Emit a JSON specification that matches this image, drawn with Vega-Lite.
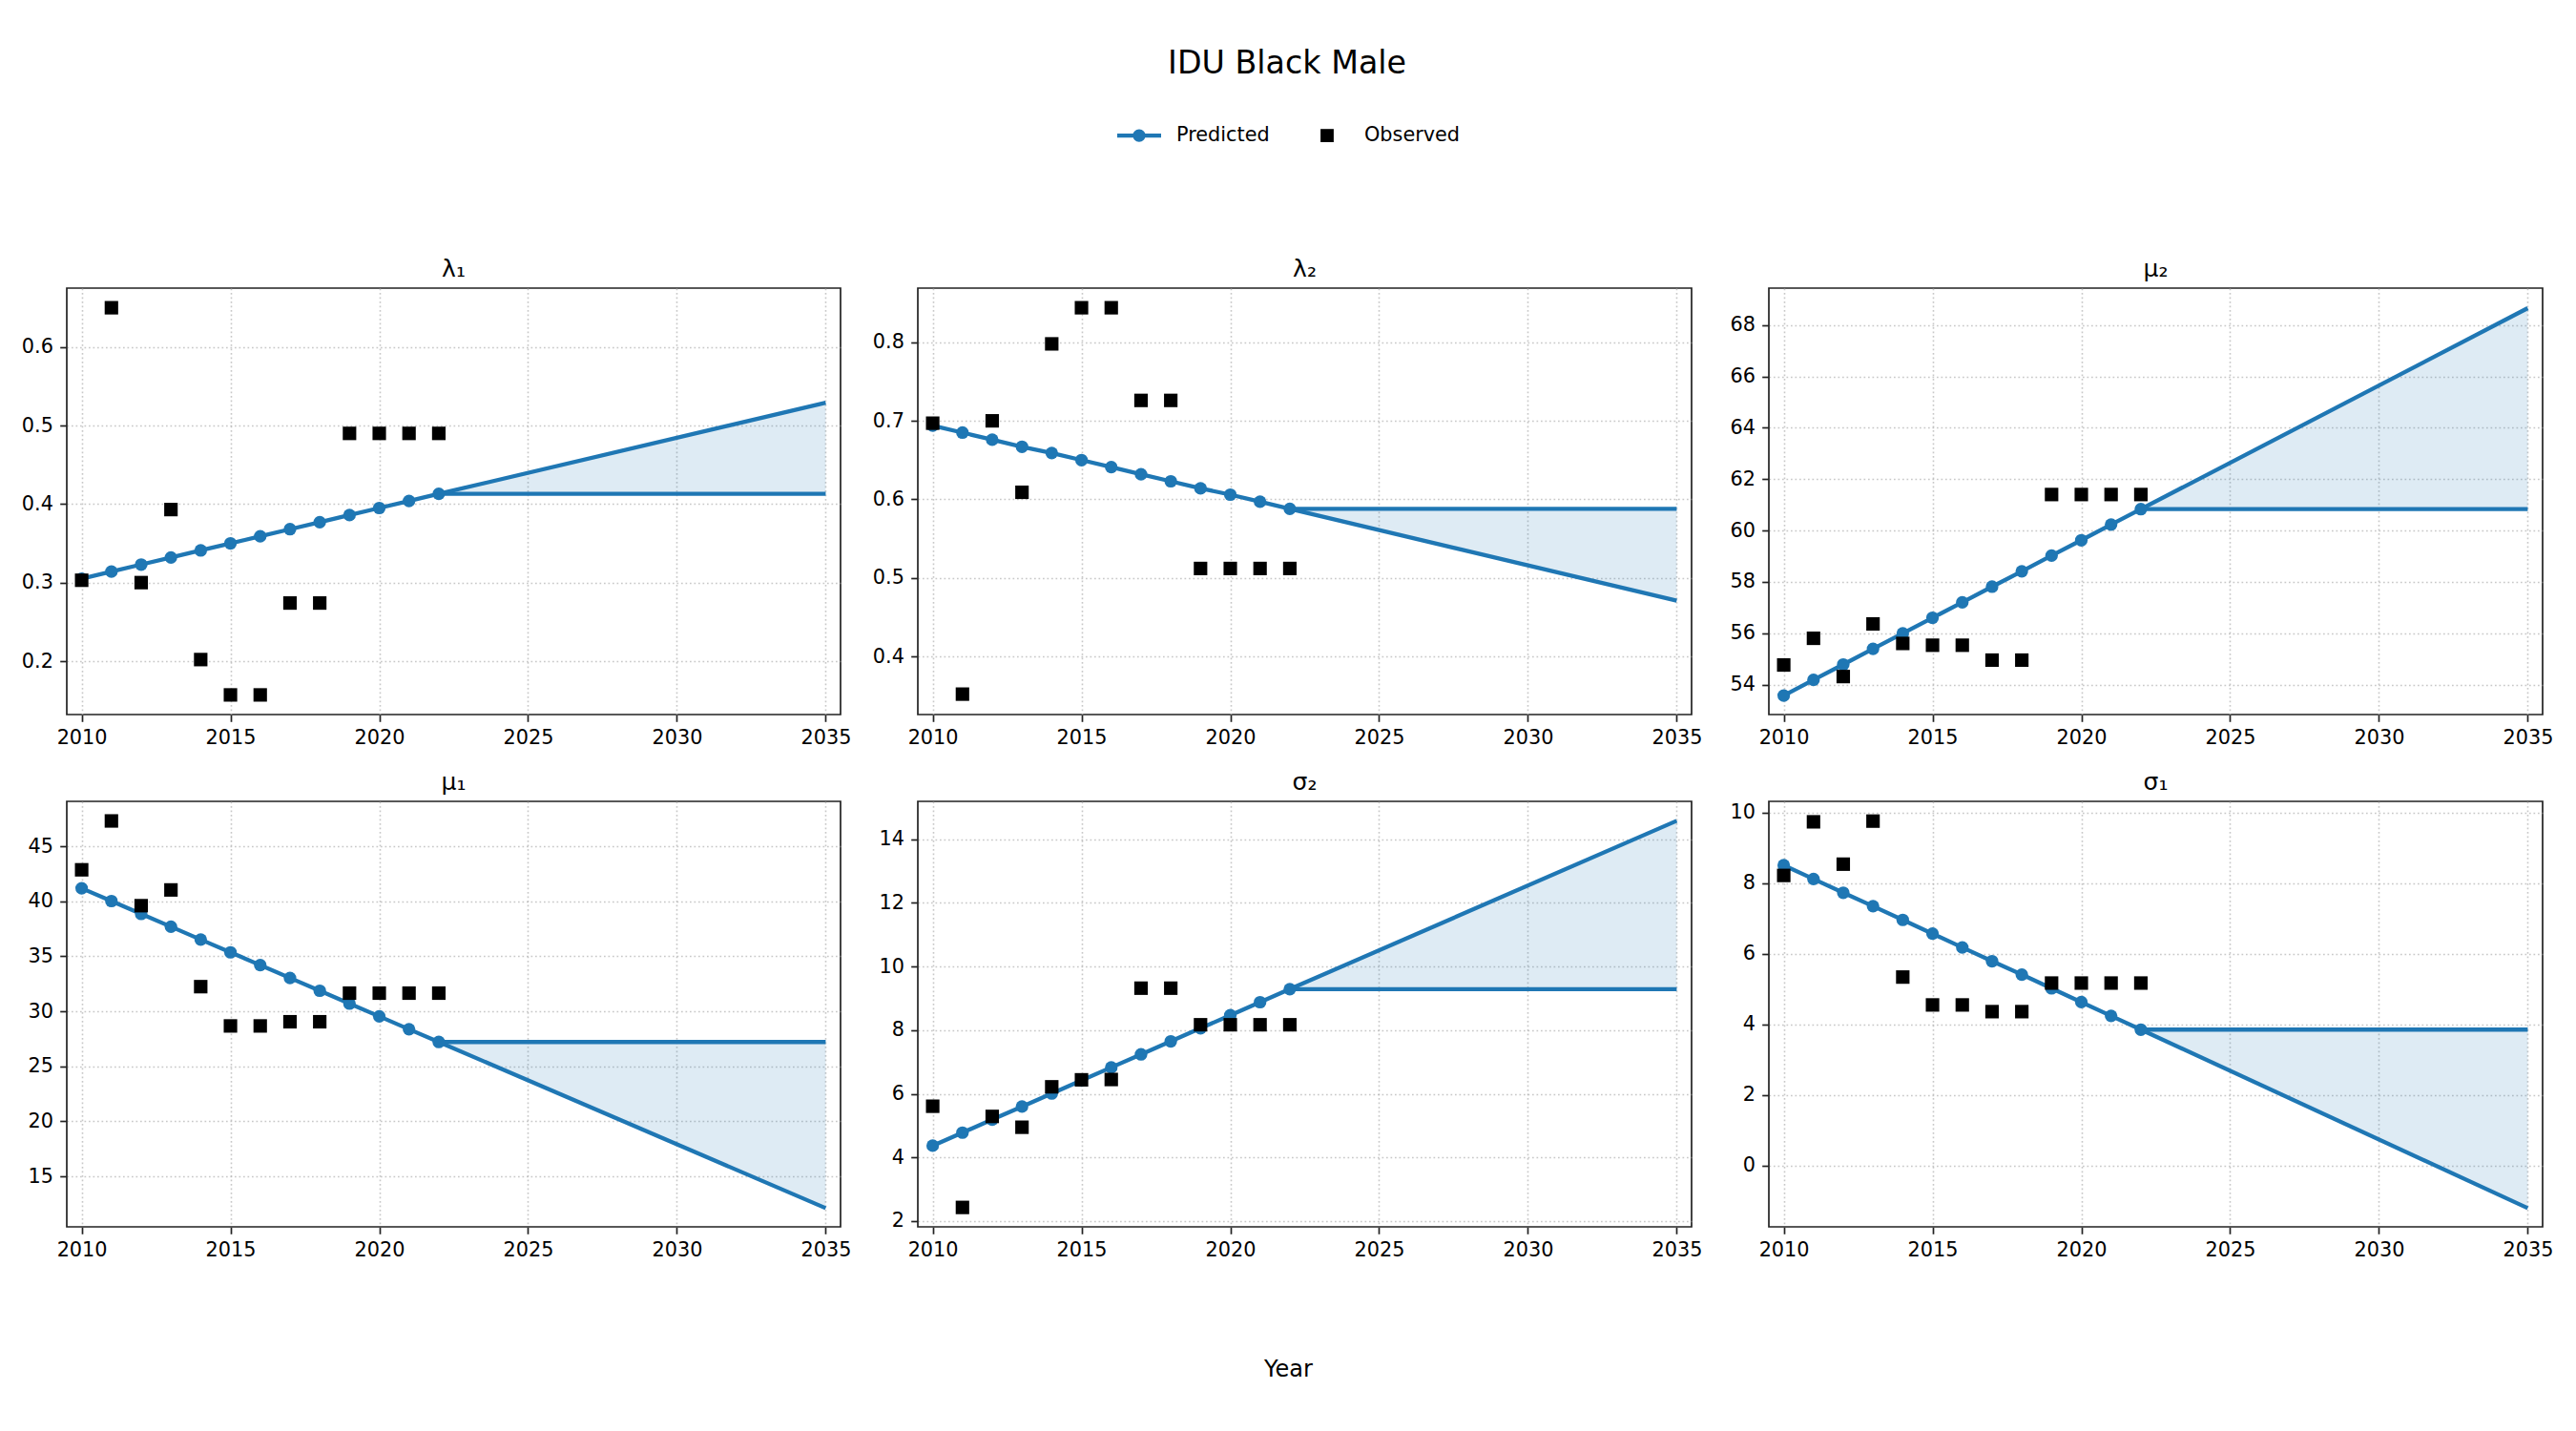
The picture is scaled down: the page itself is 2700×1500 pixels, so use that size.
{
  "$schema": "https://vega.github.io/schema/vega-lite/v6.json",
  "autosize": {"type": "none"},
  "padding": {"left": 70, "top": 302, "right": 2630, "bottom": 1198},
  "background": "white",
  "title": {"text": "IDU Black Male", "fontSize": 33.3, "anchor": "middle", "frame": "bounds", "baseline": "alphabetic", "offset": 8},
  "datasets": {
    "pred": [
      {"param": "λ₁", "year": 2010, "value": 0.305}, {"param": "λ₁", "year": 2011, "value": 0.314}, {"param": "λ₁", "year": 2012, "value": 0.323}, {"param": "λ₁", "year": 2013, "value": 0.332}, {"param": "λ₁", "year": 2014, "value": 0.341}, {"param": "λ₁", "year": 2015, "value": 0.350}, {"param": "λ₁", "year": 2016, "value": 0.359}, {"param": "λ₁", "year": 2017, "value": 0.368}, {"param": "λ₁", "year": 2018, "value": 0.377}, {"param": "λ₁", "year": 2019, "value": 0.386}, {"param": "λ₁", "year": 2020, "value": 0.395}, {"param": "λ₁", "year": 2021, "value": 0.404}, {"param": "λ₁", "year": 2022, "value": 0.413},
      {"param": "λ₂", "year": 2010, "value": 0.694}, {"param": "λ₂", "year": 2011, "value": 0.685}, {"param": "λ₂", "year": 2012, "value": 0.676}, {"param": "λ₂", "year": 2013, "value": 0.667}, {"param": "λ₂", "year": 2014, "value": 0.659}, {"param": "λ₂", "year": 2015, "value": 0.650}, {"param": "λ₂", "year": 2016, "value": 0.641}, {"param": "λ₂", "year": 2017, "value": 0.632}, {"param": "λ₂", "year": 2018, "value": 0.623}, {"param": "λ₂", "year": 2019, "value": 0.614}, {"param": "λ₂", "year": 2020, "value": 0.606}, {"param": "λ₂", "year": 2021, "value": 0.597}, {"param": "λ₂", "year": 2022, "value": 0.588},
      {"param": "μ₂", "year": 2010, "value": 53.57}, {"param": "μ₂", "year": 2011, "value": 54.18}, {"param": "μ₂", "year": 2012, "value": 54.78}, {"param": "μ₂", "year": 2013, "value": 55.39}, {"param": "μ₂", "year": 2014, "value": 55.99}, {"param": "μ₂", "year": 2015, "value": 56.60}, {"param": "μ₂", "year": 2016, "value": 57.20}, {"param": "μ₂", "year": 2017, "value": 57.81}, {"param": "μ₂", "year": 2018, "value": 58.41}, {"param": "μ₂", "year": 2019, "value": 59.02}, {"param": "μ₂", "year": 2020, "value": 59.62}, {"param": "μ₂", "year": 2021, "value": 60.23}, {"param": "μ₂", "year": 2022, "value": 60.83},
      {"param": "μ₁", "year": 2010, "value": 41.18}, {"param": "μ₁", "year": 2011, "value": 40.02}, {"param": "μ₁", "year": 2012, "value": 38.85}, {"param": "μ₁", "year": 2013, "value": 37.69}, {"param": "μ₁", "year": 2014, "value": 36.52}, {"param": "μ₁", "year": 2015, "value": 35.36}, {"param": "μ₁", "year": 2016, "value": 34.20}, {"param": "μ₁", "year": 2017, "value": 33.03}, {"param": "μ₁", "year": 2018, "value": 31.87}, {"param": "μ₁", "year": 2019, "value": 30.70}, {"param": "μ₁", "year": 2020, "value": 29.54}, {"param": "μ₁", "year": 2021, "value": 28.37}, {"param": "μ₁", "year": 2022, "value": 27.21},
      {"param": "σ₂", "year": 2010, "value": 4.37}, {"param": "σ₂", "year": 2011, "value": 4.78}, {"param": "σ₂", "year": 2012, "value": 5.19}, {"param": "σ₂", "year": 2013, "value": 5.60}, {"param": "σ₂", "year": 2014, "value": 6.01}, {"param": "σ₂", "year": 2015, "value": 6.42}, {"param": "σ₂", "year": 2016, "value": 6.83}, {"param": "σ₂", "year": 2017, "value": 7.24}, {"param": "σ₂", "year": 2018, "value": 7.65}, {"param": "σ₂", "year": 2019, "value": 8.06}, {"param": "σ₂", "year": 2020, "value": 8.47}, {"param": "σ₂", "year": 2021, "value": 8.88}, {"param": "σ₂", "year": 2022, "value": 9.29},
      {"param": "σ₁", "year": 2010, "value": 8.51}, {"param": "σ₁", "year": 2011, "value": 8.12}, {"param": "σ₁", "year": 2012, "value": 7.73}, {"param": "σ₁", "year": 2013, "value": 7.35}, {"param": "σ₁", "year": 2014, "value": 6.96}, {"param": "σ₁", "year": 2015, "value": 6.57}, {"param": "σ₁", "year": 2016, "value": 6.18}, {"param": "σ₁", "year": 2017, "value": 5.79}, {"param": "σ₁", "year": 2018, "value": 5.41}, {"param": "σ₁", "year": 2019, "value": 5.02}, {"param": "σ₁", "year": 2020, "value": 4.63}, {"param": "σ₁", "year": 2021, "value": 4.24}, {"param": "σ₁", "year": 2022, "value": 3.85}
    ],
    "obs": [
      {"param": "λ₁", "year": 2010, "value": 0.303}, {"param": "λ₁", "year": 2011, "value": 0.650}, {"param": "λ₁", "year": 2012, "value": 0.300}, {"param": "λ₁", "year": 2013, "value": 0.393}, {"param": "λ₁", "year": 2014, "value": 0.202}, {"param": "λ₁", "year": 2015, "value": 0.157}, {"param": "λ₁", "year": 2016, "value": 0.157}, {"param": "λ₁", "year": 2017, "value": 0.274}, {"param": "λ₁", "year": 2018, "value": 0.274}, {"param": "λ₁", "year": 2019, "value": 0.490}, {"param": "λ₁", "year": 2020, "value": 0.490}, {"param": "λ₁", "year": 2021, "value": 0.490}, {"param": "λ₁", "year": 2022, "value": 0.490},
      {"param": "λ₂", "year": 2010, "value": 0.697}, {"param": "λ₂", "year": 2011, "value": 0.352}, {"param": "λ₂", "year": 2012, "value": 0.700}, {"param": "λ₂", "year": 2013, "value": 0.609}, {"param": "λ₂", "year": 2014, "value": 0.798}, {"param": "λ₂", "year": 2015, "value": 0.844}, {"param": "λ₂", "year": 2016, "value": 0.844}, {"param": "λ₂", "year": 2017, "value": 0.726}, {"param": "λ₂", "year": 2018, "value": 0.726}, {"param": "λ₂", "year": 2019, "value": 0.512}, {"param": "λ₂", "year": 2020, "value": 0.512}, {"param": "λ₂", "year": 2021, "value": 0.512}, {"param": "λ₂", "year": 2022, "value": 0.512},
      {"param": "μ₂", "year": 2010, "value": 54.76}, {"param": "μ₂", "year": 2011, "value": 55.80}, {"param": "μ₂", "year": 2012, "value": 54.31}, {"param": "μ₂", "year": 2013, "value": 56.36}, {"param": "μ₂", "year": 2014, "value": 55.60}, {"param": "μ₂", "year": 2015, "value": 55.53}, {"param": "μ₂", "year": 2016, "value": 55.53}, {"param": "μ₂", "year": 2017, "value": 54.95}, {"param": "μ₂", "year": 2018, "value": 54.95}, {"param": "μ₂", "year": 2019, "value": 61.40}, {"param": "μ₂", "year": 2020, "value": 61.40}, {"param": "μ₂", "year": 2021, "value": 61.40}, {"param": "μ₂", "year": 2022, "value": 61.40},
      {"param": "μ₁", "year": 2010, "value": 42.86}, {"param": "μ₁", "year": 2011, "value": 47.30}, {"param": "μ₁", "year": 2012, "value": 39.60}, {"param": "μ₁", "year": 2013, "value": 41.03}, {"param": "μ₁", "year": 2014, "value": 32.24}, {"param": "μ₁", "year": 2015, "value": 28.67}, {"param": "μ₁", "year": 2016, "value": 28.67}, {"param": "μ₁", "year": 2017, "value": 29.05}, {"param": "μ₁", "year": 2018, "value": 29.05}, {"param": "μ₁", "year": 2019, "value": 31.65}, {"param": "μ₁", "year": 2020, "value": 31.65}, {"param": "μ₁", "year": 2021, "value": 31.65}, {"param": "μ₁", "year": 2022, "value": 31.65},
      {"param": "σ₂", "year": 2010, "value": 5.61}, {"param": "σ₂", "year": 2011, "value": 2.43}, {"param": "σ₂", "year": 2012, "value": 5.29}, {"param": "σ₂", "year": 2013, "value": 4.95}, {"param": "σ₂", "year": 2014, "value": 6.22}, {"param": "σ₂", "year": 2015, "value": 6.44}, {"param": "σ₂", "year": 2016, "value": 6.45}, {"param": "σ₂", "year": 2017, "value": 9.32}, {"param": "σ₂", "year": 2018, "value": 9.32}, {"param": "σ₂", "year": 2019, "value": 8.17}, {"param": "σ₂", "year": 2020, "value": 8.17}, {"param": "σ₂", "year": 2021, "value": 8.17}, {"param": "σ₂", "year": 2022, "value": 8.17},
      {"param": "σ₁", "year": 2010, "value": 8.22}, {"param": "σ₁", "year": 2011, "value": 9.74}, {"param": "σ₁", "year": 2012, "value": 8.54}, {"param": "σ₁", "year": 2013, "value": 9.76}, {"param": "σ₁", "year": 2014, "value": 5.34}, {"param": "σ₁", "year": 2015, "value": 4.55}, {"param": "σ₁", "year": 2016, "value": 4.55}, {"param": "σ₁", "year": 2017, "value": 4.36}, {"param": "σ₁", "year": 2018, "value": 4.36}, {"param": "σ₁", "year": 2019, "value": 5.17}, {"param": "σ₁", "year": 2020, "value": 5.17}, {"param": "σ₁", "year": 2021, "value": 5.17}, {"param": "σ₁", "year": 2022, "value": 5.17}
    ],
    "proj": [
      {"param": "λ₁", "year": 2022, "flat": 0.413, "trend": 0.413}, {"param": "λ₁", "year": 2035, "flat": 0.413, "trend": 0.529},
      {"param": "λ₂", "year": 2022, "flat": 0.588, "trend": 0.588}, {"param": "λ₂", "year": 2035, "flat": 0.588, "trend": 0.471},
      {"param": "μ₂", "year": 2022, "flat": 60.83, "trend": 60.83}, {"param": "μ₂", "year": 2035, "flat": 60.83, "trend": 68.66},
      {"param": "μ₁", "year": 2022, "flat": 27.21, "trend": 27.21}, {"param": "μ₁", "year": 2035, "flat": 27.21, "trend": 12.11},
      {"param": "σ₂", "year": 2022, "flat": 9.29, "trend": 9.29}, {"param": "σ₂", "year": 2035, "flat": 9.29, "trend": 14.58},
      {"param": "σ₁", "year": 2022, "flat": 3.85, "trend": 3.85}, {"param": "σ₁", "year": 2035, "flat": 3.85, "trend": -1.21}
    ]
  },
  "columns": 3,
  "spacing": {"row": 91, "column": 81},
  "bounds": "flush",
  "concat": [
    {
      "title": "λ₁", "width": 811, "height": 447,
      "encoding": {"x": {"field": "year", "type": "quantitative", "title": null, "scale": {"domain": [2009.5, 2035.5], "nice": false, "zero": false}, "axis": {"values": [2010, 2015, 2020, 2025, 2030, 2035], "format": "d"}}},
      "layer": [
        {"data": {"name": "proj"}, "transform": [{"filter": "datum.param === 'λ₁'"}], "mark": {"type": "area", "color": "#1f77b4", "opacity": 0.15}, "encoding": {"y": {"field": "flat", "type": "quantitative", "title": null, "scale": {"domain": [0.132, 0.675], "nice": false, "zero": false}, "axis": {"values": [0.2, 0.3, 0.4, 0.5, 0.6], "format": ".1f"}}, "y2": {"field": "trend"}}},
        {"data": {"name": "proj"}, "transform": [{"filter": "datum.param === 'λ₁'"}], "mark": {"type": "line", "color": "#1f77b4", "strokeWidth": 4.3}, "encoding": {"y": {"field": "flat", "type": "quantitative", "title": null}}},
        {"data": {"name": "proj"}, "transform": [{"filter": "datum.param === 'λ₁'"}], "mark": {"type": "line", "color": "#1f77b4", "strokeWidth": 4.3}, "encoding": {"y": {"field": "trend", "type": "quantitative", "title": null}}},
        {"data": {"name": "pred"}, "transform": [{"filter": "datum.param === 'λ₁'"}], "mark": {"type": "line", "color": "#1f77b4", "strokeWidth": 4.3}, "encoding": {"y": {"field": "value", "type": "quantitative", "title": null}}},
        {"data": {"name": "pred"}, "transform": [{"filter": "datum.param === 'λ₁'"}], "mark": {"type": "point", "shape": "circle", "filled": true, "opacity": 1, "size": 175, "color": "#1f77b4"}, "encoding": {"y": {"field": "value", "type": "quantitative", "title": null}}},
        {"data": {"name": "obs"}, "transform": [{"filter": "datum.param === 'λ₁'"}], "mark": {"type": "point", "shape": "square", "filled": true, "opacity": 1, "size": 200, "color": "#000000"}, "encoding": {"y": {"field": "value", "type": "quantitative", "title": null}}},
        {"data": {"name": "pred"}, "transform": [{"filter": "datum.year < 0"}], "mark": {"type": "point", "filled": true, "opacity": 1},
          "encoding": {"y": {"field": "value", "type": "quantitative", "title": null},
            "color": {"datum": "Predicted", "type": "nominal", "scale": {"domain": ["Predicted", "Observed"], "range": ["#1f77b4", "#000000"]},
              "legend": {"title": null, "orient": "none", "legendX": 1100, "legendY": -184, "direction": "horizontal", "symbolSize": 2116, "labelOffset": 15, "columnPadding": 36, "padding": 0, "labelFontSize": 20.8}},
            "shape": {"datum": "Predicted", "type": "nominal", "scale": {"domain": ["Predicted", "Observed"], "range": ["M-1,-0.09L1,-0.09L1,0.09L-1,0.09Z M0.29,0A0.29,0.29 0 0,1 -0.29,0A0.29,0.29 0 0,1 0.29,0Z", "M-0.3,-0.3L0.3,-0.3L0.3,0.3L-0.3,0.3Z"]},
              "legend": {"title": null, "orient": "none", "legendX": 1100, "legendY": -184, "direction": "horizontal", "symbolSize": 2116, "labelOffset": 15, "columnPadding": 36, "padding": 0, "labelFontSize": 20.8}}}}
      ]
    },
    {
      "title": "λ₂", "width": 811, "height": 447,
      "encoding": {"x": {"field": "year", "type": "quantitative", "title": null, "scale": {"domain": [2009.5, 2035.5], "nice": false, "zero": false}, "axis": {"values": [2010, 2015, 2020, 2025, 2030, 2035], "format": "d"}}},
      "layer": [
        {"data": {"name": "proj"}, "transform": [{"filter": "datum.param === 'λ₂'"}], "mark": {"type": "area", "color": "#1f77b4", "opacity": 0.15}, "encoding": {"y": {"field": "flat", "type": "quantitative", "title": null, "scale": {"domain": [0.326, 0.869], "nice": false, "zero": false}, "axis": {"values": [0.4, 0.5, 0.6, 0.7, 0.8], "format": ".1f"}}, "y2": {"field": "trend"}}},
        {"data": {"name": "proj"}, "transform": [{"filter": "datum.param === 'λ₂'"}], "mark": {"type": "line", "color": "#1f77b4", "strokeWidth": 4.3}, "encoding": {"y": {"field": "flat", "type": "quantitative", "title": null}}},
        {"data": {"name": "proj"}, "transform": [{"filter": "datum.param === 'λ₂'"}], "mark": {"type": "line", "color": "#1f77b4", "strokeWidth": 4.3}, "encoding": {"y": {"field": "trend", "type": "quantitative", "title": null}}},
        {"data": {"name": "pred"}, "transform": [{"filter": "datum.param === 'λ₂'"}], "mark": {"type": "line", "color": "#1f77b4", "strokeWidth": 4.3}, "encoding": {"y": {"field": "value", "type": "quantitative", "title": null}}},
        {"data": {"name": "pred"}, "transform": [{"filter": "datum.param === 'λ₂'"}], "mark": {"type": "point", "shape": "circle", "filled": true, "opacity": 1, "size": 175, "color": "#1f77b4"}, "encoding": {"y": {"field": "value", "type": "quantitative", "title": null}}},
        {"data": {"name": "obs"}, "transform": [{"filter": "datum.param === 'λ₂'"}], "mark": {"type": "point", "shape": "square", "filled": true, "opacity": 1, "size": 200, "color": "#000000"}, "encoding": {"y": {"field": "value", "type": "quantitative", "title": null}}}
      ]
    },
    {
      "title": "μ₂", "width": 811, "height": 447,
      "encoding": {"x": {"field": "year", "type": "quantitative", "title": null, "scale": {"domain": [2009.5, 2035.5], "nice": false, "zero": false}, "axis": {"values": [2010, 2015, 2020, 2025, 2030, 2035], "format": "d"}}},
      "layer": [
        {"data": {"name": "proj"}, "transform": [{"filter": "datum.param === 'μ₂'"}], "mark": {"type": "area", "color": "#1f77b4", "opacity": 0.15}, "encoding": {"y": {"field": "flat", "type": "quantitative", "title": null, "scale": {"domain": [52.83, 69.44], "nice": false, "zero": false}, "axis": {"values": [54, 56, 58, 60, 62, 64, 66, 68], "format": "d"}}, "y2": {"field": "trend"}}},
        {"data": {"name": "proj"}, "transform": [{"filter": "datum.param === 'μ₂'"}], "mark": {"type": "line", "color": "#1f77b4", "strokeWidth": 4.3}, "encoding": {"y": {"field": "flat", "type": "quantitative", "title": null}}},
        {"data": {"name": "proj"}, "transform": [{"filter": "datum.param === 'μ₂'"}], "mark": {"type": "line", "color": "#1f77b4", "strokeWidth": 4.3}, "encoding": {"y": {"field": "trend", "type": "quantitative", "title": null}}},
        {"data": {"name": "pred"}, "transform": [{"filter": "datum.param === 'μ₂'"}], "mark": {"type": "line", "color": "#1f77b4", "strokeWidth": 4.3}, "encoding": {"y": {"field": "value", "type": "quantitative", "title": null}}},
        {"data": {"name": "pred"}, "transform": [{"filter": "datum.param === 'μ₂'"}], "mark": {"type": "point", "shape": "circle", "filled": true, "opacity": 1, "size": 175, "color": "#1f77b4"}, "encoding": {"y": {"field": "value", "type": "quantitative", "title": null}}},
        {"data": {"name": "obs"}, "transform": [{"filter": "datum.param === 'μ₂'"}], "mark": {"type": "point", "shape": "square", "filled": true, "opacity": 1, "size": 200, "color": "#000000"}, "encoding": {"y": {"field": "value", "type": "quantitative", "title": null}}}
      ]
    },
    {
      "title": "μ₁", "width": 811, "height": 446,
      "encoding": {"x": {"field": "year", "type": "quantitative", "title": null, "scale": {"domain": [2009.5, 2035.5], "nice": false, "zero": false}, "axis": {"values": [2010, 2015, 2020, 2025, 2030, 2035], "format": "d"}}},
      "layer": [
        {"data": {"name": "proj"}, "transform": [{"filter": "datum.param === 'μ₁'"}], "mark": {"type": "area", "color": "#1f77b4", "opacity": 0.15}, "encoding": {"y": {"field": "flat", "type": "quantitative", "title": null, "scale": {"domain": [10.41, 49.08], "nice": false, "zero": false}, "axis": {"values": [15, 20, 25, 30, 35, 40, 45], "format": "d"}}, "y2": {"field": "trend"}}},
        {"data": {"name": "proj"}, "transform": [{"filter": "datum.param === 'μ₁'"}], "mark": {"type": "line", "color": "#1f77b4", "strokeWidth": 4.3}, "encoding": {"y": {"field": "flat", "type": "quantitative", "title": null}}},
        {"data": {"name": "proj"}, "transform": [{"filter": "datum.param === 'μ₁'"}], "mark": {"type": "line", "color": "#1f77b4", "strokeWidth": 4.3}, "encoding": {"y": {"field": "trend", "type": "quantitative", "title": null}}},
        {"data": {"name": "pred"}, "transform": [{"filter": "datum.param === 'μ₁'"}], "mark": {"type": "line", "color": "#1f77b4", "strokeWidth": 4.3}, "encoding": {"y": {"field": "value", "type": "quantitative", "title": null}}},
        {"data": {"name": "pred"}, "transform": [{"filter": "datum.param === 'μ₁'"}], "mark": {"type": "point", "shape": "circle", "filled": true, "opacity": 1, "size": 175, "color": "#1f77b4"}, "encoding": {"y": {"field": "value", "type": "quantitative", "title": null}}},
        {"data": {"name": "obs"}, "transform": [{"filter": "datum.param === 'μ₁'"}], "mark": {"type": "point", "shape": "square", "filled": true, "opacity": 1, "size": 200, "color": "#000000"}, "encoding": {"y": {"field": "value", "type": "quantitative", "title": null}}}
      ]
    },
    {
      "title": "σ₂", "width": 811, "height": 446,
      "encoding": {"x": {"field": "year", "type": "quantitative", "title": "Year", "scale": {"domain": [2009.5, 2035.5], "nice": false, "zero": false}, "axis": {"values": [2010, 2015, 2020, 2025, 2030, 2035], "format": "d", "titleX": 388, "titleY": 156, "titleBaseline": "alphabetic", "titleFontSize": 24, "titleFontWeight": "normal", "titleColor": "#000000"}}},
      "layer": [
        {"data": {"name": "proj"}, "transform": [{"filter": "datum.param === 'σ₂'"}], "mark": {"type": "area", "color": "#1f77b4", "opacity": 0.15}, "encoding": {"y": {"field": "flat", "type": "quantitative", "title": null, "scale": {"domain": [1.82, 15.19], "nice": false, "zero": false}, "axis": {"values": [2, 4, 6, 8, 10, 12, 14], "format": "d"}}, "y2": {"field": "trend"}}},
        {"data": {"name": "proj"}, "transform": [{"filter": "datum.param === 'σ₂'"}], "mark": {"type": "line", "color": "#1f77b4", "strokeWidth": 4.3}, "encoding": {"y": {"field": "flat", "type": "quantitative", "title": null}}},
        {"data": {"name": "proj"}, "transform": [{"filter": "datum.param === 'σ₂'"}], "mark": {"type": "line", "color": "#1f77b4", "strokeWidth": 4.3}, "encoding": {"y": {"field": "trend", "type": "quantitative", "title": null}}},
        {"data": {"name": "pred"}, "transform": [{"filter": "datum.param === 'σ₂'"}], "mark": {"type": "line", "color": "#1f77b4", "strokeWidth": 4.3}, "encoding": {"y": {"field": "value", "type": "quantitative", "title": null}}},
        {"data": {"name": "pred"}, "transform": [{"filter": "datum.param === 'σ₂'"}], "mark": {"type": "point", "shape": "circle", "filled": true, "opacity": 1, "size": 175, "color": "#1f77b4"}, "encoding": {"y": {"field": "value", "type": "quantitative", "title": null}}},
        {"data": {"name": "obs"}, "transform": [{"filter": "datum.param === 'σ₂'"}], "mark": {"type": "point", "shape": "square", "filled": true, "opacity": 1, "size": 200, "color": "#000000"}, "encoding": {"y": {"field": "value", "type": "quantitative", "title": null}}}
      ]
    },
    {
      "title": "σ₁", "width": 811, "height": 446,
      "encoding": {"x": {"field": "year", "type": "quantitative", "title": null, "scale": {"domain": [2009.5, 2035.5], "nice": false, "zero": false}, "axis": {"values": [2010, 2015, 2020, 2025, 2030, 2035], "format": "d"}}},
      "layer": [
        {"data": {"name": "proj"}, "transform": [{"filter": "datum.param === 'σ₁'"}], "mark": {"type": "area", "color": "#1f77b4", "opacity": 0.15}, "encoding": {"y": {"field": "flat", "type": "quantitative", "title": null, "scale": {"domain": [-1.74, 10.32], "nice": false, "zero": false}, "axis": {"values": [0, 2, 4, 6, 8, 10], "format": "d"}}, "y2": {"field": "trend"}}},
        {"data": {"name": "proj"}, "transform": [{"filter": "datum.param === 'σ₁'"}], "mark": {"type": "line", "color": "#1f77b4", "strokeWidth": 4.3}, "encoding": {"y": {"field": "flat", "type": "quantitative", "title": null}}},
        {"data": {"name": "proj"}, "transform": [{"filter": "datum.param === 'σ₁'"}], "mark": {"type": "line", "color": "#1f77b4", "strokeWidth": 4.3}, "encoding": {"y": {"field": "trend", "type": "quantitative", "title": null}}},
        {"data": {"name": "pred"}, "transform": [{"filter": "datum.param === 'σ₁'"}], "mark": {"type": "line", "color": "#1f77b4", "strokeWidth": 4.3}, "encoding": {"y": {"field": "value", "type": "quantitative", "title": null}}},
        {"data": {"name": "pred"}, "transform": [{"filter": "datum.param === 'σ₁'"}], "mark": {"type": "point", "shape": "circle", "filled": true, "opacity": 1, "size": 175, "color": "#1f77b4"}, "encoding": {"y": {"field": "value", "type": "quantitative", "title": null}}},
        {"data": {"name": "obs"}, "transform": [{"filter": "datum.param === 'σ₁'"}], "mark": {"type": "point", "shape": "square", "filled": true, "opacity": 1, "size": 200, "color": "#000000"}, "encoding": {"y": {"field": "value", "type": "quantitative", "title": null}}}
      ]
    }
  ],
  "config": {
    "font": "DejaVu Sans",
    "view": {"stroke": "#222222", "strokeWidth": 1.7},
    "title": {"fontSize": 25, "fontWeight": "normal", "color": "#000000", "baseline": "alphabetic", "offset": 7},
    "axis": {
      "domain": false,
      "ticks": true, "tickSize": 7.3, "tickWidth": 1.7, "tickColor": "#222222",
      "labelFontSize": 20.8, "labelColor": "#000000", "labelPadding": 7.3, "labelFont": "DejaVu Sans",
      "grid": true, "gridColor": "#b0b0b0", "gridOpacity": 0.7, "gridWidth": 1.6, "gridDash": [1.7, 2.8],
      "labelFlush": false, "labelOverlap": false
    },
    "legend": {"labelFontSize": 20.8, "labelFont": "DejaVu Sans", "labelColor": "#000000"}
  }
}
